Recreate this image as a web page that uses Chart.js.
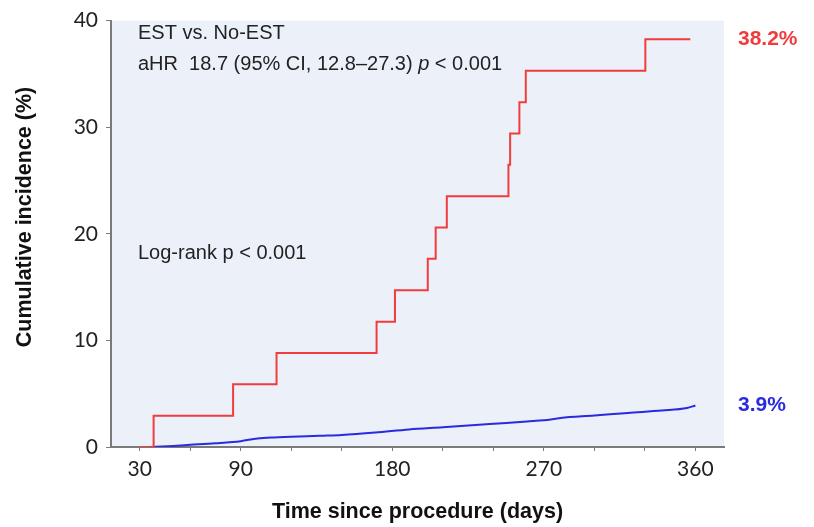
<!DOCTYPE html>
<html>
<head>
<meta charset="utf-8">
<script src="https://cdn.jsdelivr.net/npm/chart.js@4"></script>
<style>
  html, body { margin: 0; padding: 0; background: #ffffff; }
  #box { width: 814px; height: 527px; }
</style>
</head>
<body>
<div id="box"><canvas id="grafico"></canvas></div>
<script>
// datos
const estDays = [30, 38.3, 85.5, 111.3, 170.7, 181.6, 201.1, 205.8, 212.4, 249.0, 250.0, 255.5, 259.3, 330.3, 357];
const estIncidence = [0, 2.94, 5.88, 8.82, 11.76, 14.71, 17.65, 20.59, 23.53, 26.47, 29.41, 32.35, 35.29, 38.24, 38.24];

const noEstDays = [33, 40, 50, 60, 75, 90, 100, 110, 120, 137, 150, 170, 190, 210, 238, 260, 270, 280, 300, 320, 340, 355, 360];
const noEstIncidence = [0, 0.03, 0.1, 0.2, 0.35, 0.55, 0.8, 0.9, 0.95, 1.05, 1.12, 1.35, 1.65, 1.85, 2.15, 2.4, 2.5, 2.72, 2.95, 3.2, 3.42, 3.65, 3.9];

const xTickMarks = [30, 60, 90, 120, 150, 180, 210, 240, 270, 300, 330, 360];
const xTickLabels = [30, 90, 180, 270, 360];
const yTicks = [0, 10, 20, 30, 40];

const finalLabels = ['38.2%', '3.9%'];

const toPoints = (xs, ys) => xs.map((x, i) => ({x: x, y: ys[i]}));

// fondo del area y textos
const decoraciones = {
    id: 'decoraciones',
    beforeDraw(chart) {
        const {ctx, chartArea} = chart;
        ctx.save();
        ctx.fillStyle = '#ecf1f9';
        ctx.fillRect(chartArea.left, chartArea.top, chartArea.right - chartArea.left, chartArea.bottom - chartArea.top);
        ctx.restore();
    },
    afterDraw(chart) {
        const {ctx, chartArea, scales} = chart;
        ctx.save();
        ctx.fillStyle = '#222';
        ctx.textBaseline = 'middle';
        ctx.textAlign = 'left';
        ctx.font = '20px "Liberation Sans", Arial, sans-serif';
        const x0 = chartArea.left + 27;
        ctx.fillText('EST vs. No-EST', x0, 33);

        // linea con la p en cursiva
        let x = x0;
        const partes = [['aHR  18.7 (95% CI, 12.8\u201327.3) ', false], ['p', true], [' < 0.001', false]];
        partes.forEach(([t, it]) => {
            ctx.font = (it ? 'italic ' : '') + '20px "Liberation Sans", Arial, sans-serif';
            ctx.fillText(t, x, 64);
            x += ctx.measureText(t).width;
        });

        ctx.font = '20px "Liberation Sans", Arial, sans-serif';
        ctx.fillText('Log-rank p < 0.001', x0, 253);

        // etiquetas finales
        ctx.font = 'bold 21px "Liberation Sans", Arial, sans-serif';
        chart.data.datasets.forEach((ds, i) => {
            const last = ds.data[ds.data.length - 1];
            ctx.fillStyle = ds.borderColor;
            ctx.fillText(finalLabels[i], chartArea.right + 14, scales.y.getPixelForValue(last.y));
        });

        // titulo eje y
        ctx.fillStyle = '#111';
        ctx.font = 'bold 21.5px "Liberation Sans", Arial, sans-serif';
        ctx.translate(25, 217);
        ctx.rotate(-Math.PI / 2);
        ctx.textAlign = 'center';
        ctx.fillText('Cumulative incidence (%)', 0, 0);
        ctx.restore();
    }
};

const grafico = () => {
    const ctx = document.getElementById('grafico').getContext('2d');
    new Chart(ctx, {
        type: 'line',
        data: {
            datasets: [{
                label: 'EST',
                data: toPoints(estDays, estIncidence),
                borderColor: '#f03c3c',
                borderWidth: 2,
                stepped: 'before',
                pointRadius: 0,
                fill: false
            }, {
                label: 'No-EST',
                data: toPoints(noEstDays, noEstIncidence),
                borderColor: '#2a2ae0',
                borderWidth: 2,
                cubicInterpolationMode: 'monotone',
                pointRadius: 0,
                fill: false
            }]
        },
        options: {
            responsive: false,
            animation: false,
            layout: { padding: { left: 0, right: 90, top: 17, bottom: 0 } },
            plugins: {
                legend: { display: false },
                tooltip: { enabled: false }
            },
            scales: {
                x: {
                    type: 'linear',
                    min: 13,
                    max: 377,
                    afterBuildTicks: (scale) => { scale.ticks = xTickMarks.map(v => ({value: v})); },
                    afterFit: (scale) => { scale.height = 80; },
                    border: { display: true, color: '#7a7a7a', width: 2 },
                    grid: { drawOnChartArea: false, drawTicks: true, tickLength: 4, color: '#7a7a7a' },
                    ticks: {
                        autoSkip: false,
                        maxRotation: 0,
                        padding: 6,
                        color: '#222',
                        font: { family: 'Lato', size: 21 },
                        callback: (v) => xTickLabels.includes(v) ? String(v) : ''
                    },
                    title: {
                        display: true,
                        text: 'Time since procedure (days)',
                        color: '#111',
                        font: { family: '"Liberation Sans", Arial, sans-serif', size: 21.5, weight: 'bold' },
                        padding: { top: 0, bottom: 2 }
                    }
                },
                y: {
                    min: 0,
                    max: 40,
                    afterBuildTicks: (scale) => { scale.ticks = yTicks.map(v => ({value: v})); },
                    afterFit: (scale) => { scale.width = 111; },
                    border: { display: true, color: '#7a7a7a', width: 2 },
                    grid: { drawOnChartArea: false, drawTicks: true, tickLength: 5, color: '#7a7a7a' },
                    ticks: {
                        padding: 8,
                        color: '#222',
                        font: { family: 'Lato', size: 21 }
                    }
                }
            }
        },
        plugins: [decoraciones]
    });
};

document.getElementById('grafico').width = 814;
document.getElementById('grafico').height = 527;
grafico();
</script>
</body>
</html>
